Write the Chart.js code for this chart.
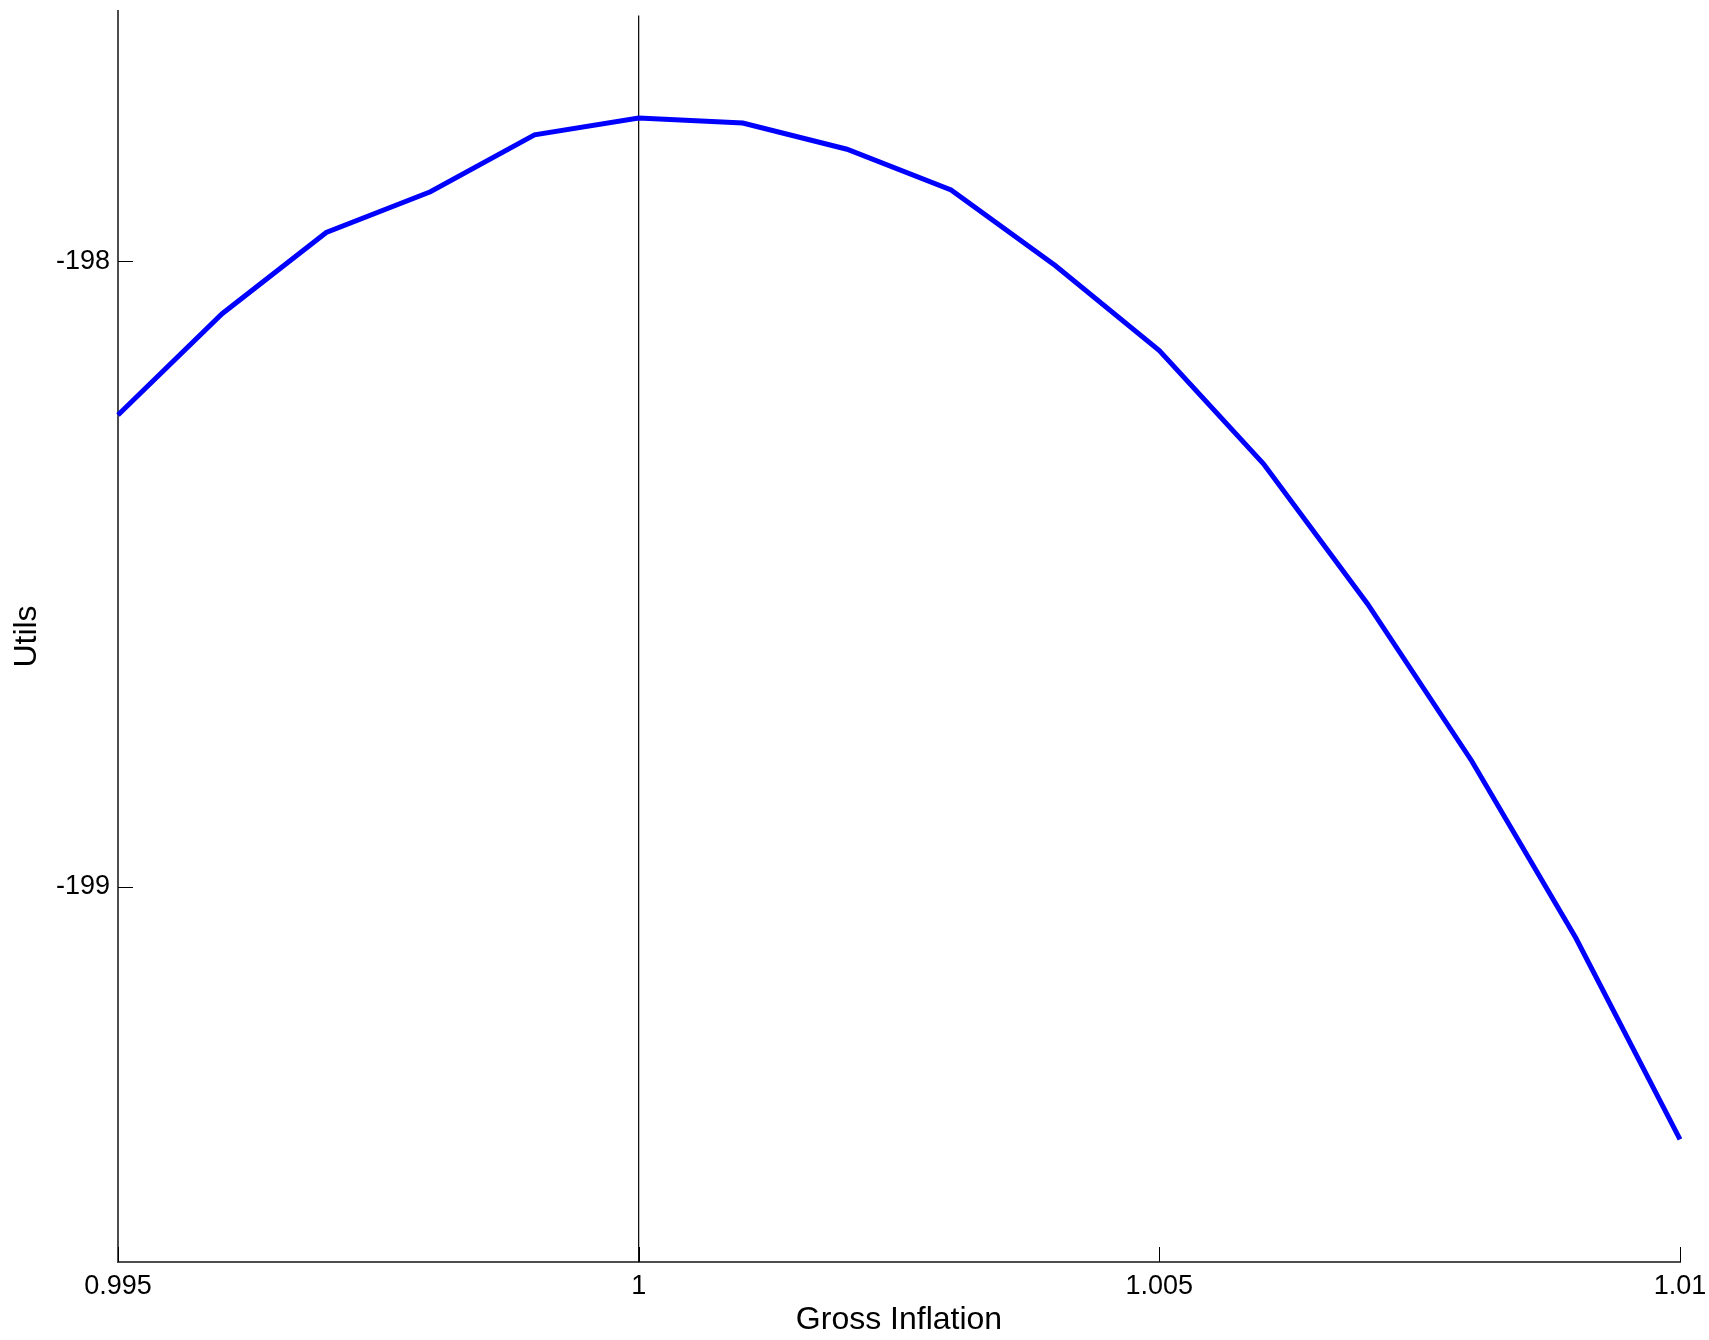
<!DOCTYPE html>
<html>
<head>
<meta charset="utf-8">
<title>Utils vs Gross Inflation</title>
<script src="https://cdn.jsdelivr.net/npm/chart.js@4.4.0/dist/chart.umd.min.js"></script>
<style>
  html, body { margin: 0; padding: 0; background: #fff; }
  #wrap { width: 1709px; height: 1340px; }
</style>
</head>
<body>
<div id="wrap"><canvas id="chart" width="1709" height="1340"></canvas></div>
<script>
/* ---------- DATA ---------- */
const inflation = [0.995, 0.996, 0.997, 0.998, 0.999, 1.000, 1.001, 1.002,
                   1.003, 1.004, 1.005, 1.006, 1.007, 1.008, 1.009, 1.010];
const utils = [-198.246, -198.084, -197.954, -197.889, -197.798, -197.771, -197.779, -197.821,
               -197.886, -198.007, -198.143, -198.324, -198.548, -198.799, -199.082, -199.404];

const xTicks = [0.995, 1, 1.005, 1.01];
const xTickLabels = ['0.995', '1', '1.005', '1.01'];
const yTicks = [-199, -198];
const yTickLabels = ['-199', '-198'];

const xRange = [0.995, 1.01];
const yRange = [-199.6, -197.6];

// vertical reference line at gross inflation = 1
const refX = 1;
const refY = [-199.6, -197.607];

const FONT = "'Liberation Sans', Arial, Helvetica, sans-serif";

/* ---------- PLUGINS ---------- */
// MATLAB-style ticks pointing into the plot
const inwardTicks = {
  id: 'inwardTicks',
  afterDatasetsDraw(chart) {
    const { ctx, chartArea, scales: { x, y } } = chart;
    ctx.save();
    ctx.strokeStyle = '#000';
    ctx.lineWidth = 1;
    ctx.beginPath();
    xTicks.forEach(v => {
      const px = Math.round(x.getPixelForValue(v)) + 0.5;
      ctx.moveTo(px, chartArea.bottom);
      ctx.lineTo(px, chartArea.bottom - 15);
    });
    yTicks.forEach(v => {
      const py = Math.round(y.getPixelForValue(v)) + 0.5;
      ctx.moveTo(chartArea.left, py);
      ctx.lineTo(chartArea.left + 15, py);
    });
    ctx.stroke();
    ctx.restore();
  }
};

// keep tick labels from pushing the plot area around
function noLabelPadding(axis) {
  axis.paddingTop = 0;
  axis.paddingBottom = 0;
  axis.paddingLeft = 0;
  axis.paddingRight = 0;
}

/* ---------- CHART ---------- */
const ctx = document.getElementById('chart').getContext('2d');
new Chart(ctx, {
  type: 'line',
  data: {
    datasets: [
      {
        data: inflation.map((x, i) => ({ x, y: utils[i] })),
        borderColor: '#0000ff',
        borderWidth: 5,
        pointRadius: 0,
        tension: 0,
        clip: false,
        order: 0
      },
      {
        data: refY.map(y => ({ x: refX, y })),
        borderColor: '#000',
        borderWidth: 1.2,
        pointRadius: 0,
        clip: false,
        order: 1
      }
    ]
  },
  options: {
    responsive: false,
    animation: false,
    events: [],
    layout: { autoPadding: false, padding: { left: 0, right: 29, top: 11, bottom: 0 } },
    plugins: { legend: { display: false }, tooltip: { enabled: false } },
    scales: {
      x: {
        type: 'linear',
        min: xRange[0],
        max: xRange[1],
        grid: { display: false, drawTicks: false },
        border: { display: true, color: '#4d4d4d', width: 2 },
        afterBuildTicks: axis => { axis.ticks = xTicks.map(v => ({ value: v })); },
        afterFit: axis => { axis.height = 78; noLabelPadding(axis); },
        ticks: {
          padding: 8,
          color: '#000',
          maxRotation: 0,
          autoSkip: false,
          font: { family: FONT, size: 27 },
          callback: v => xTickLabels[xTicks.indexOf(v)]
        },
        title: {
          display: true,
          text: 'Gross Inflation',
          color: '#000',
          font: { family: FONT, size: 32 },
          padding: { top: 0, bottom: 1 }
        }
      },
      y: {
        type: 'linear',
        min: yRange[0],
        max: yRange[1],
        grid: { display: false, drawTicks: false },
        border: { display: true, color: '#4d4d4d', width: 2 },
        afterBuildTicks: axis => { axis.ticks = yTicks.map(v => ({ value: v })); },
        afterFit: axis => { axis.width = 118; noLabelPadding(axis); },
        ticks: {
          padding: 8,
          color: '#000',
          autoSkip: false,
          font: { family: FONT, size: 27 },
          callback: v => yTickLabels[yTicks.indexOf(v)]
        },
        title: {
          display: true,
          text: 'Utils',
          color: '#000',
          font: { family: FONT, size: 32 },
          padding: { top: 8, bottom: 0 }
        }
      }
    }
  },
  plugins: [inwardTicks]
});
</script>
</body>
</html>
